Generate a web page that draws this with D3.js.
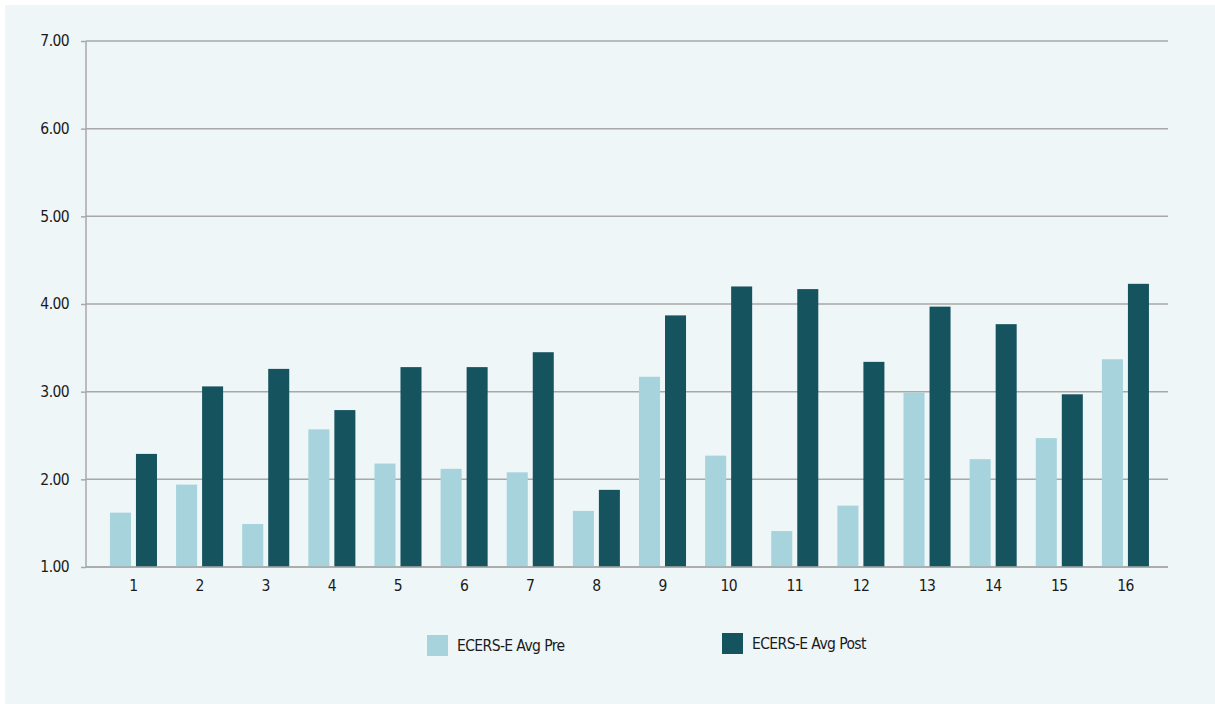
<!DOCTYPE html>
<html><head><meta charset="utf-8">
<script src="https://cdn.jsdelivr.net/npm/d3@7"></script>
<style>
html,body{margin:0;padding:0;background:#fff;}
text{font-family:"Liberation Sans Narrow","DejaVu Sans Condensed","Roboto Condensed","Liberation Sans",sans-serif;fill:#1a1a1a;letter-spacing:-0.6px;}
</style></head>
<body>
<svg id="chart" width="1215" height="704"></svg>
<script>
const categories = ["1","2","3","4","5","6","7","8","9","10","11","12","13","14","15","16"];
const seriesNames = ["ECERS-E Avg Pre","ECERS-E Avg Post"];
const preValues  = [1.62,1.94,1.49,2.57,2.18,2.12,2.08,1.64,3.17,2.27,1.41,1.70,2.99,2.23,2.47,3.37];
const postValues = [2.29,3.06,3.26,2.79,3.28,3.28,3.45,1.88,3.87,4.20,4.17,3.34,3.97,3.77,2.97,4.23];
const yTicks = [1,2,3,4,5,6,7];
const colors = ["#a6d3dc","#15535e"];

const svg = d3.select("#chart");
svg.append("rect").attr("x",5).attr("y",5).attr("width",1210).attr("height",699).attr("fill","#eef6f8");

const y = d3.scaleLinear().domain([1,7]).range([567,41]);
const x0 = d3.scaleBand().domain(categories).range([100.4,1158.5]).paddingInner(0.289).paddingOuter(0.1445);
const x1 = d3.scaleBand().domain(seriesNames).range([0,x0.bandwidth()]).paddingInner(0.192).paddingOuter(0);

// y axis ticks and labels
const gAxisY = svg.append("g").attr("transform","translate(86,0)")
  .call(d3.axisLeft(y).tickValues(yTicks).tickFormat(d3.format(".2f")).tickSize(5).tickPadding(12));
gAxisY.select(".domain").remove();
gAxisY.selectAll(".tick line").attr("stroke","#a8a8a8").attr("stroke-width",1.5);
gAxisY.selectAll(".tick text").attr("font-size","15.5px").attr("fill","#1a1a1a");

// gridlines
svg.append("g").selectAll("line").data(yTicks).join("line")
  .attr("x1",86).attr("x2",1168).attr("y1",d=>y(d)).attr("y2",d=>y(d))
  .attr("stroke","#a8a8a8").attr("stroke-width",1.5);
svg.append("line").attr("x1",86).attr("x2",86).attr("y1",y(7)).attr("y2",y(1)+0.75)
  .attr("stroke","#a8a8a8").attr("stroke-width",1.5);

// bars
const data = categories.map((c,i)=>({cat:c, vals:[preValues[i],postValues[i]]}));
const groups = svg.append("g").selectAll("g").data(data).join("g")
  .attr("transform",d=>`translate(${x0(d.cat)},0)`);
groups.selectAll("rect").data(d=>d.vals.map((v,j)=>({name:seriesNames[j],v,j}))).join("rect")
  .attr("x",d=>x1(d.name)).attr("width",x1.bandwidth())
  .attr("y",d=>y(d.v)).attr("height",d=>y(1)-y(d.v))
  .attr("fill",d=>colors[d.j]);

// baseline redraw
svg.append("line").attr("x1",86).attr("x2",1168).attr("y1",y(1)).attr("y2",y(1))
  .attr("stroke","#a8a8a8").attr("stroke-width",1.5);

// x axis labels
const gAxisX = svg.append("g").attr("transform",`translate(0,${y(1)})`)
  .call(d3.axisBottom(x0).tickSize(0).tickPadding(13));
gAxisX.select(".domain").remove();
gAxisX.selectAll(".tick text").attr("font-size","15.5px").attr("fill","#1a1a1a");

// legend
const legendX = [427,722];
const legendY = [635,633];
const lg = svg.append("g").selectAll("g").data(seriesNames).join("g")
  .attr("transform",(d,i)=>`translate(${legendX[i]},${legendY[i]})`);
lg.append("rect").attr("width",21).attr("height",21).attr("fill",(d,i)=>colors[i]);
lg.append("text").attr("x",30).attr("y",10.5).attr("dy","0.35em").attr("font-size","15.5px").text(d=>d);
</script>
</body></html>
